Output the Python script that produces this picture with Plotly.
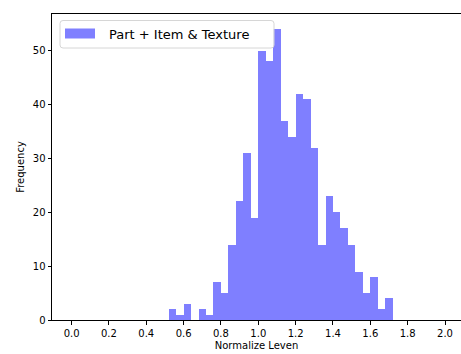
import plotly.graph_objects as go

# Histogram data (bin width 0.04, first bin starts at 0.52)
bin_start = 0.52
bin_width = 0.04
counts = [2, 1, 3, 0, 2, 1, 7, 5, 14, 22, 31, 19, 50, 48, 54, 37, 34, 42, 41, 32,
          14, 23, 20, 17, 14, 9, 5, 8, 2, 4]
series_name = "Part + Item & Texture"
x_ticks = [0.0, 0.2, 0.4, 0.6, 0.8, 1.0, 1.2, 1.4, 1.6, 1.8, 2.0]
y_ticks = [0, 10, 20, 30, 40, 50]

centers = [bin_start + bin_width * (i + 0.5) for i in range(len(counts))]

W, H = 461, 354
L, R, T, B = 52, 0, 14, 34
pw, ph = W - L - R, H - T - B

def px(x):
    return (x - L) / pw

def py(y):
    return (H - B - y) / ph

fig = go.Figure()
fig.add_trace(go.Bar(
    x=centers, y=counts, width=[bin_width] * len(counts),
    marker=dict(color="rgba(0,0,255,0.5)", line=dict(width=0)),
    name=series_name, showlegend=False,
))

font = dict(family="DejaVu Sans", size=10, color="black")

# custom matplotlib-like legend
x0, x1, y0, y1 = 60, 274, 20.5, 48
r = 3
path = (f"M {px(x0+r)},{py(y0)} L {px(x1-r)},{py(y0)} Q {px(x1)},{py(y0)} {px(x1)},{py(y0+r)} "
        f"L {px(x1)},{py(y1-r)} Q {px(x1)},{py(y1)} {px(x1-r)},{py(y1)} "
        f"L {px(x0+r)},{py(y1)} Q {px(x0)},{py(y1)} {px(x0)},{py(y1-r)} "
        f"L {px(x0)},{py(y0+r)} Q {px(x0)},{py(y0)} {px(x0+r)},{py(y0)} Z")
shapes = [
    dict(type="path", xref="paper", yref="paper", path=path,
         fillcolor="rgba(255,255,255,0.8)", line=dict(color="#d6d6d6", width=1)),
    dict(type="rect", xref="paper", yref="paper",
         x0=px(65), x1=px(95), y0=py(38.5), y1=py(28.5),
         fillcolor="rgba(0,0,255,0.5)", line=dict(width=0)),
]
annotations = [
    dict(text=series_name, xref="paper", yref="paper", x=px(107), y=py(34),
         xanchor="left", yanchor="middle", showarrow=False,
         font=dict(family="DejaVu Sans", size=13, color="black")),
]

s = 186.7
xmin = -(71.6 - L) / s
xmax = xmin + pw / s

fig.update_layout(
    width=W, height=H,
    margin=dict(l=L, r=R, t=T, b=B, pad=0),
    plot_bgcolor="white", paper_bgcolor="white",
    font=font,
    bargap=0,
    shapes=shapes, annotations=annotations,
    xaxis=dict(
        range=[xmin, xmax], tickvals=x_ticks, ticktext=[f"{v:.1f}" for v in x_ticks],
        showline=True, linecolor="black", linewidth=1, mirror=True,
        ticks="outside", ticklen=3.5, tickwidth=1, tickcolor="black",
        showgrid=False, zeroline=False,
        title=dict(text="Normalize Leven", font=dict(family="DejaVu Sans", size=10), standoff=4),
    ),
    yaxis=dict(
        range=[0, 56.8], tickvals=y_ticks,
        showline=True, linecolor="black", linewidth=1,
        ticks="outside", ticklen=3.5, tickwidth=1, tickcolor="black",
        showgrid=False, zeroline=False,
        title=dict(text="Frequency", font=dict(family="DejaVu Sans", size=10), standoff=6),
    ),
)

fig.write_html("out.html")
